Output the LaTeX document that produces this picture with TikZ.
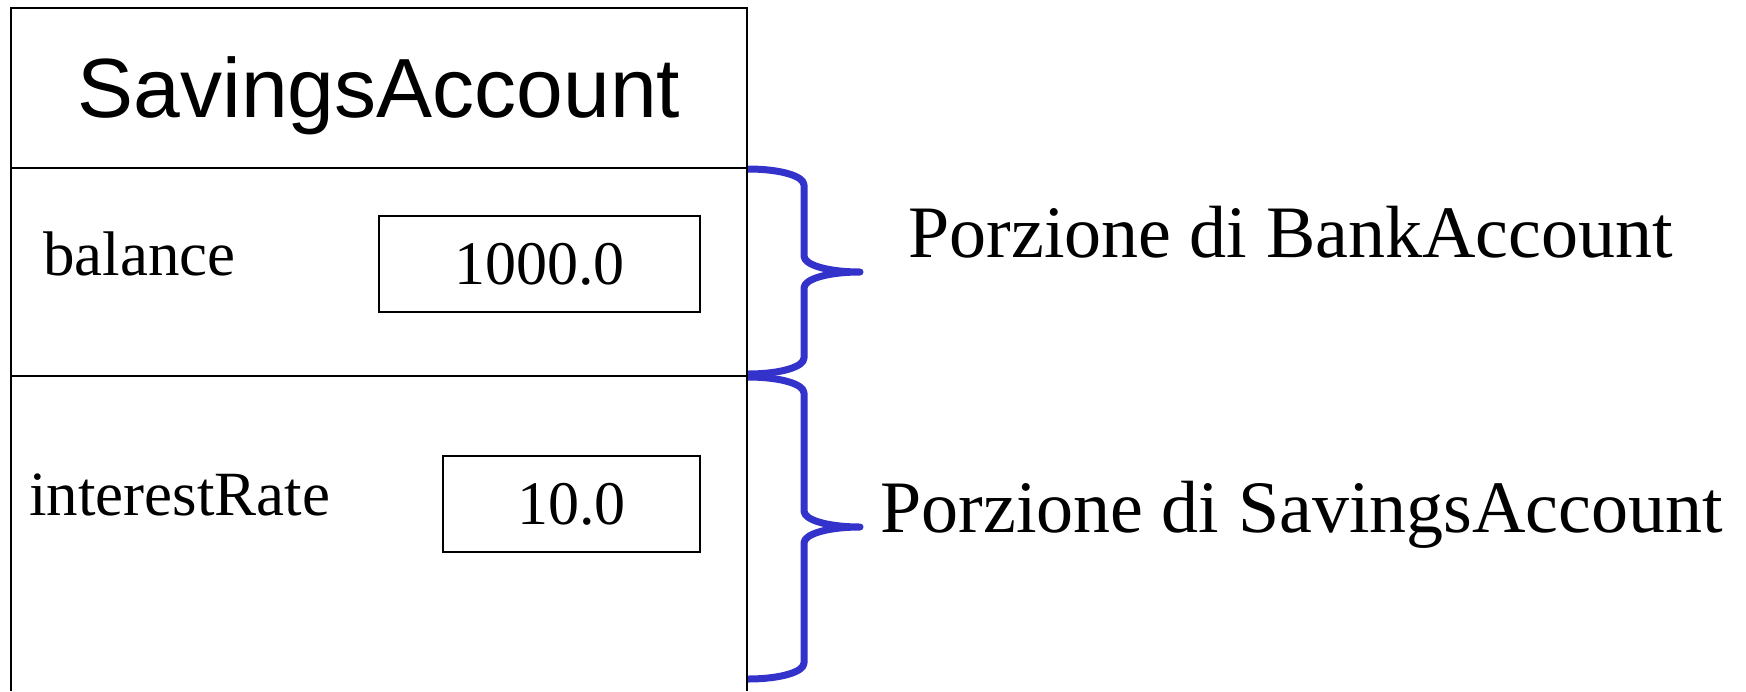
\documentclass[tikz,border=0pt]{standalone}
\usepackage{fontspec}
\setmainfont{Liberation Serif}
\setsansfont{Liberation Sans}
\usetikzlibrary{calc}
\definecolor{braceblue}{RGB}{51,51,204}
\newcommand\fieldsize{31.5}
\newcommand\portionsize{37}
\tikzstyle{classtitle} = [font=\sffamily\fontsize{42}{42}\selectfont, anchor=base, inner sep=0pt]
\tikzstyle{fieldname} = [font=\fontsize{\fieldsize}{\fieldsize}\selectfont, anchor=base west, inner sep=0pt]
\tikzstyle{fieldval} = [draw=black, line width=1pt, minimum height=48pt, inner sep=0pt, font=\fontsize{31}{31}\selectfont]
\tikzstyle{portionlabel} = [font=\fontsize{\portionsize}{\portionsize}\selectfont, anchor=base west, inner sep=0pt]
\tikzstyle{bracket} = [braceblue, line width=3.5pt, line join=round]

\begin{document}
\begin{tikzpicture}[x=0.5pt, y=-0.5pt]
	\useasboundingbox (0,0) rectangle (1746,691);

	% object box, open at the bottom
	\coordinate (nw) at (11,8);
	\coordinate (ne) at (747,8);
	\coordinate (sep1w) at (11,168);
	\coordinate (sep1e) at (747,168);
	\coordinate (sep2w) at (11,376);
	\coordinate (sep2e) at (747,376);
	\draw[line width=1pt] (11,691) -- (nw) -- (ne) -- (747,691);
	\draw[line width=1pt] (sep1w) -- (sep1e);
	\draw[line width=1pt] (sep2w) -- (sep2e);

	\node[classtitle] (title) at (379,117) {SavingsAccount};

	% fields
	\node[fieldname] (balance) at (43,275) {balance};
	\node[fieldval, minimum width=160.5pt] (balanceval) at (539.5,264) {1000.0};
	\node[fieldname] (rate) at (29,515) {interestRate};
	\node[fieldval, minimum width=128.5pt] (rateval) at (571.5,504) {10.0};

	% braces
	\coordinate (b1top) at (748,169);
	\coordinate (b1tip) at (860,272);
	\coordinate (b1bot) at (748,374);
	\draw[bracket] (b1top) .. controls +(32,0) and +(0,-9) .. ++(56,16)
		-- ($(b1tip)+(-56,-16)$) .. controls +(0,9) and +(-32,0) .. (b1tip)
		.. controls +(-32,0) and +(0,-9) .. ++(-56,16)
		-- ($(b1bot)+(56,-16)$) .. controls +(0,9) and +(32,0) .. (b1bot);

	\coordinate (b2top) at (748,377);
	\coordinate (b2tip) at (860,527);
	\coordinate (b2bot) at (748,679);
	\draw[bracket] (b2top) .. controls +(32,0) and +(0,-9) .. ++(56,16)
		-- ($(b2tip)+(-56,-16)$) .. controls +(0,9) and +(-32,0) .. (b2tip)
		.. controls +(-32,0) and +(0,-9) .. ++(-56,16)
		-- ($(b2bot)+(56,-16)$) .. controls +(0,9) and +(32,0) .. (b2bot);

	\node[portionlabel] (bankpart) at (908,257) {Porzione di BankAccount};
	\node[portionlabel] (savingspart) at (880,532) {Porzione di SavingsAccount};
\end{tikzpicture}
\end{document}
